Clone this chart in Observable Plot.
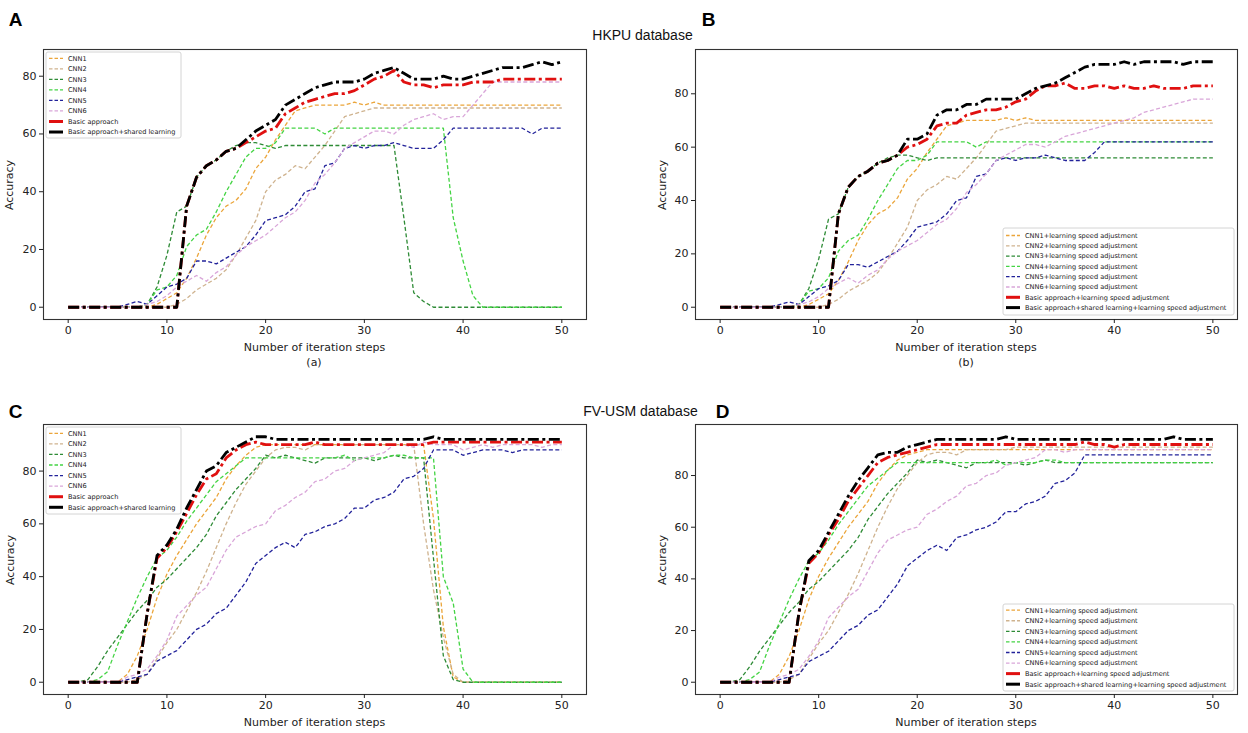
<!DOCTYPE html>
<html><head><meta charset="utf-8">
<script src="https://cdn.jsdelivr.net/npm/d3@7"></script>
<script src="https://cdn.jsdelivr.net/npm/@observablehq/plot@0.6"></script>
<style>
body{margin:0;background:#fff;}
#fig{position:relative;width:1248px;height:733px;overflow:hidden;background:#fff;}
.abs{position:absolute;white-space:nowrap;transform:translate(-50%,-50%);line-height:1;}
.letter{font-family:"Liberation Sans",Arial,sans-serif;font-weight:bold;font-size:19px;color:#000;}
.db{font-family:"Liberation Sans",Arial,sans-serif;font-size:14px;color:#111;}
.axlab{font-family:"DejaVu Sans",sans-serif;font-size:11px;color:#222;}
</style></head><body><div id="fig"></div>
<script>
// ---------------- data ----------------
const steps = d3.range(0, 51);
const xTicks = [0, 10, 20, 30, 40, 50];
const yTicks = [0, 20, 40, 60, 80];

const legendA = ["CNN1","CNN2","CNN3","CNN4","CNN5","CNN6","Basic approach","Basic approach+shared learning"];
const legendB = ["CNN1+learning speed adjustment","CNN2+learning speed adjustment","CNN3+learning speed adjustment","CNN4+learning speed adjustment","CNN5+learning speed adjustment","CNN6+learning speed adjustment","Basic approach+learning speed adjustment","Basic approach+shared learning+learning speed adjustment"];

// Panel A (HKPU, basic)
const A_cnn1 = [0,0,0,0,0,0,0,0,0,1,3,5,10,17,25,31,35,37,41,48,52,58,63,68,69,70,70,70,70,71,70,71,70,70,70,70,70,70,70,70,70,70,70,70,70,70,70,70,70,70,70];
const A_cnn2 = [0,0,0,0,0,0,0,0,0,0,0,1,3,6,8,10,13,18,24,30,40,44,46,49,48,52,56,61,66,67,68,69,69,69,69,69,69,69,69,69,69,69,69,69,69,69,69,69,69,69,69];
const A_cnn3 = [0,0,0,0,0,0,0,0,1,7,18,33,35,45,49,51,54,56,57,57,56,55,56,56,56,56,56,56,56,56,56,56,56,56,31,5,2,0,0,0,0,0,0,0,0,0,0,0,0,0,0];
const A_cnn4 = [0,0,0,0,0,0,0,0,1,6,7,11,21,25,27,33,40,46,52,55,55,57,62,62,62,62,60,62,62,62,62,62,62,62,62,62,62,62,62,31,16,4,0,0,0,0,0,0,0,0,0];
const A_cnn5 = [0,0,0,0,0,0,1,2,1,4,7,8,10,16,16,15,17,19,21,25,30,31,32,35,40,41,49,50,55,56,55,56,56,57,56,55,55,55,58,62,62,62,62,62,62,62,62,60,62,62,62];
const A_cnn6 = [0,0,0,0,0,0,0,0,1,2,4,7,9,11,9,12,14,18,21,23,25,28,31,33,37,43,46,50,55,57,59,61,61,60,63,65,66,67,65,66,66,70,74,78,78,78,78,78,78,78,78];
const A_basic = [0,0,0,0,0,0,0,0,0,0,0,0,35,45,49,51,54,55,57,59,61,62,67,69,71,72,73,74,74,75,77,79,80,82,78,77,77,76,77,77,77,78,78,78,79,79,79,79,79,79,79];
const A_shared = [0,0,0,0,0,0,0,0,0,0,0,0,35,45,49,51,54,55,58,61,63,65,70,72,74,76,77,78,78,78,79,81,82,83,81,79,79,79,80,79,79,80,81,82,83,83,83,84,85,84,85];

// Panel B (HKPU, learning speed adjustment)
const B_cnn1 = [0,0,0,0,0,0,0,0,0,1,3,5,10,17,25,31,35,37,41,48,52,58,63,68,69,70,70,70,70,71,70,71,70,70,70,70,70,70,70,70,70,70,70,70,70,70,70,70,70,70,70];
const B_cnn2 = [0,0,0,0,0,0,0,0,0,0,0,1,3,6,8,10,13,18,24,30,40,44,46,49,48,52,56,61,66,67,68,69,69,69,69,69,69,69,69,69,69,69,69,69,69,69,69,69,69,69,69];
const B_cnn3 = [0,0,0,0,0,0,0,0,1,7,18,33,35,45,49,51,54,56,57,57,56,55,56,56,56,56,56,56,56,56,56,56,56,56,56,56,56,56,56,56,56,56,56,56,56,56,56,56,56,56,56];
const B_cnn4 = [0,0,0,0,0,0,0,0,1,6,7,11,21,25,27,33,40,46,52,55,55,57,62,62,62,62,60,62,62,62,62,62,62,62,62,62,62,62,62,62,62,62,62,62,62,62,62,62,62,62,62];
const B_cnn5 = [0,0,0,0,0,0,1,2,1,4,7,8,10,16,16,15,17,19,21,25,30,31,32,35,40,41,49,50,55,56,55,56,56,57,56,55,55,55,58,62,62,62,62,62,62,62,62,62,62,62,62];
const B_cnn6 = [0,0,0,0,0,0,0,0,1,2,4,7,9,11,9,12,14,18,21,23,25,28,31,33,37,43,46,50,55,57,59,61,61,60,62,64,65,66,67,68,69,70,71,73,74,75,76,77,78,78,78];
const B_basic = [0,0,0,0,0,0,0,0,0,0,0,0,35,45,49,51,54,55,57,60,61,63,68,69,69,72,73,74,74,75,77,78,81,83,83,84,82,82,83,83,82,83,82,82,83,82,82,82,83,83,83];
const B_shared = [0,0,0,0,0,0,0,0,0,0,0,0,35,45,49,51,54,55,57,63,63,65,72,74,74,76,76,78,78,78,78,80,82,83,84,86,88,90,91,91,91,92,91,92,92,92,92,91,92,92,92];

// Panel C (FV-USM, basic)
const C_cnn1 = [0,0,0,0,0,0,3,10,20,32,41,48,54,60,65,70,77,82,86,89,90,90,90,90,90,90,90,90,90,90,90,90,90,90,90,90,90,62,21,2,0,0,0,0,0,0,0,0,0,0,0];
const C_cnn2 = [0,0,0,0,0,0,0,1,3,9,15,20,27,34,42,51,60,68,75,80,85,88,89,89,88,90,90,90,90,90,90,90,90,90,90,90,60,35,17,3,0,0,0,0,0,0,0,0,0,0,0];
const C_cnn3 = [0,0,1,6,12,17,22,27,31,36,39,43,47,51,56,63,68,73,77,81,86,85,86,85,84,83,85,85,85,85,85,84,85,86,85,85,85,47,10,1,0,0,0,0,0,0,0,0,0,0,0];
const C_cnn4 = [0,0,0,1,4,14,23,32,40,47,50,55,61,66,71,76,79,82,85,85,85,85,85,85,85,85,85,85,86,84,85,85,85,86,86,85,85,85,40,30,5,0,0,0,0,0,0,0,0,0,0];
const C_cnn5 = [0,0,0,0,0,0,1,2,3,8,10,12,16,20,22,26,28,33,38,45,48,51,53,51,56,57,59,60,62,66,66,69,70,72,77,78,81,88,88,88,86,87,88,88,88,87,88,88,88,88,88];
const C_cnn6 = [0,0,0,0,0,0,2,3,5,10,16,25,29,33,36,43,50,55,57,59,60,65,67,70,72,76,77,80,81,84,85,86,87,90,90,89,91,90,90,90,88,89,90,89,90,90,90,90,89,90,90];
const C_basic = [0,0,0,0,0,0,0,0,26,47,51,57,64,71,77,79,85,88,90,91,90,90,90,90,90,91,90,90,90,90,90,90,90,90,90,90,90,91,91,91,91,91,91,91,91,91,91,91,91,91,91];
const C_shared = [0,0,0,0,0,0,0,0,26,48,52,58,66,73,80,82,87,89,91,93,93,92,92,92,92,92,92,92,92,92,92,92,92,92,92,92,92,93,92,92,92,92,92,92,92,92,92,92,92,92,92];

// Panel D (FV-USM, learning speed adjustment)
const D_cnn1 = [0,0,0,0,0,0,3,10,20,32,41,48,54,60,65,70,77,82,86,88,89,90,90,90,90,90,90,90,90,90,90,90,90,90,90,90,90,90,90,90,90,90,90,90,90,90,90,90,90,90,90];
const D_cnn2 = [0,0,0,0,0,0,0,1,3,9,15,20,27,34,42,51,60,68,75,80,85,88,89,89,88,90,90,90,90,90,91,91,91,91,91,91,91,91,91,91,91,91,91,91,91,91,91,91,91,91,91];
const D_cnn3 = [0,0,1,6,12,17,22,27,31,36,39,43,47,51,56,63,68,73,77,81,86,85,86,85,84,83,85,85,85,85,85,84,85,86,85,85,85,85,85,85,85,85,85,85,85,85,85,85,85,85,85];
const D_cnn4 = [0,0,0,1,4,14,23,32,40,47,50,55,61,66,71,76,79,82,85,85,85,85,85,85,85,85,85,85,86,84,85,85,85,86,86,85,85,85,85,85,85,85,85,85,85,85,85,85,85,85,85];
const D_cnn5 = [0,0,0,0,0,0,1,2,3,8,10,12,16,20,22,26,28,33,38,45,48,51,53,51,56,57,59,60,62,66,66,69,70,72,77,78,81,88,88,88,88,88,88,88,88,88,88,88,88,88,88];
const D_cnn6 = [0,0,0,0,0,0,2,3,5,10,16,25,29,33,36,43,50,55,57,59,60,65,67,70,72,76,77,80,81,84,85,86,87,90,90,89,90,90,90,90,90,90,90,90,90,90,90,90,90,90,90];
const D_basic = [0,0,0,0,0,0,0,0,27,46,50,57,63,70,75,80,85,87,88,89,90,91,92,92,92,92,92,92,92,92,92,92,92,92,92,92,92,93,92,92,91,92,92,92,92,92,92,92,92,92,92];
const D_shared = [0,0,0,0,0,0,0,0,27,47,51,58,65,72,78,83,88,89,89,91,92,93,94,94,94,94,94,94,94,95,94,94,94,94,94,94,94,94,94,94,94,94,94,94,94,94,95,94,94,94,94];

// ---------------- styles ----------------
const seriesStyle = [
  {color: "#eba53a", width: 1.3, dash: "4,2.4"},
  {color: "#cfb38f", width: 1.3, dash: "4,2.4"},
  {color: "#2e8b36", width: 1.3, dash: "4,2.4"},
  {color: "#44d444", width: 1.3, dash: "4,2.4"},
  {color: "#22229a", width: 1.3, dash: "4,2.4"},
  {color: "#d9a6d9", width: 1.3, dash: "4,2.4"},
  {color: "#e01010", width: 2.8, dash: "11,3.5,3,3.5"},
  {color: "#000000", width: 2.8, dash: "11,3.5,3,3.5"}
];

const fig = document.getElementById("fig");

function panel(cfg) {
  const marks = [Plot.frame({stroke: "#333", strokeWidth: 1.1})];
  cfg.series.forEach((vals, k) => {
    const st = seriesStyle[k];
    marks.push(Plot.line(vals, {
      x: (d, i) => steps[i], y: d => d,
      stroke: st.color, strokeWidth: st.width, strokeDasharray: st.dash,
      strokeLinejoin: "round", strokeLinecap: "butt"
    }));
  });
  marks.push(Plot.axisX({ticks: xTicks, tickSize: 4, tickPadding: 3, label: null}));
  marks.push(Plot.axisY({ticks: yTicks, tickSize: 4, tickPadding: 3, label: null}));
  const svg = Plot.plot({
    width: 620, height: cfg.height,
    marginLeft: cfg.ml, marginRight: cfg.mr, marginTop: cfg.mt, marginBottom: cfg.mb,
    x: {domain: [-2.5, 52.5]},
    y: {domain: cfg.yDomain},
    style: {fontFamily: "DejaVu Sans, sans-serif", fontSize: "11px", color: "#222", background: "transparent", overflow: "visible"},
    marks
  });
  svg.style.position = "absolute";
  svg.style.left = cfg.left + "px";
  svg.style.top = cfg.top + "px";
  fig.appendChild(svg);
}

function legend(cfg) {
  const svg = d3.create("svg")
    .attr("width", cfg.w + 2).attr("height", cfg.h + 2)
    .style("position", "absolute").style("left", (cfg.x - 1) + "px").style("top", (cfg.y - 1) + "px");
  svg.append("rect").attr("x", 1).attr("y", 1).attr("width", cfg.w).attr("height", cfg.h)
    .attr("rx", 2).attr("fill", "rgba(255,255,255,0.85)").attr("stroke", "#d4d4d4");
  cfg.labels.forEach((lab, k) => {
    const st = seriesStyle[k];
    const cy = 1 + cfg.row0 + k * cfg.step;
    const ln = svg.append("line").attr("x1", 4).attr("x2", 18).attr("y1", cy).attr("y2", cy)
      .attr("stroke", st.color).attr("stroke-width", k >= 6 ? 3 : 1.3);
    if (k < 6) ln.attr("stroke-dasharray", "3.5,2");
    svg.append("text").attr("x", 23).attr("y", cy).attr("dy", "0.35em")
      .attr("font-family", "DejaVu Sans, sans-serif").attr("font-size", 6.6).attr("fill", "#222")
      .text(lab);
  });
  fig.appendChild(svg.node());
}

function label(text, x, y, cls, rotate) {
  const d = document.createElement("div");
  d.className = "abs " + cls;
  d.textContent = text;
  d.style.left = x + "px";
  d.style.top = y + "px";
  if (rotate) d.style.transform = "translate(-50%,-50%) rotate(-90deg)";
  fig.appendChild(d);
}

panel({left: 0, top: 0, height: 370, ml: 43, mr: 34, mt: 49, mb: 51, yDomain: [-4.25, 89.25],
  series: [A_cnn1, A_cnn2, A_cnn3, A_cnn4, A_cnn5, A_cnn6, A_basic, A_shared]});
panel({left: 630, top: 0, height: 370, ml: 65, mr: 13, mt: 49, mb: 51, yDomain: [-4.6, 96.6],
  series: [B_cnn1, B_cnn2, B_cnn3, B_cnn4, B_cnn5, B_cnn6, B_basic, B_shared]});
panel({left: 0, top: 375, height: 358, ml: 43, mr: 34, mt: 49, mb: 39, yDomain: [-4.65, 97.65],
  series: [C_cnn1, C_cnn2, C_cnn3, C_cnn4, C_cnn5, C_cnn6, C_basic, C_shared]});
panel({left: 630, top: 375, height: 358, ml: 65, mr: 13, mt: 49, mb: 39, yDomain: [-4.75, 99.75],
  series: [D_cnn1, D_cnn2, D_cnn3, D_cnn4, D_cnn5, D_cnn6, D_basic, D_shared]});

legend({x: 46, y: 52, w: 135, h: 86, row0: 6.3, step: 10.53, labels: legendA});
legend({x: 46, y: 427, w: 135, h: 87, row0: 6.3, step: 10.57, labels: legendA});
legend({x: 1003, y: 228, w: 231, h: 87, row0: 7.5, step: 10.3, labels: legendB});
legend({x: 1003, y: 604, w: 231, h: 87, row0: 6.2, step: 10.57, labels: legendB});

label("A", 15.5, 18.5, "letter");
label("B", 708.5, 18.5, "letter");
label("C", 15.5, 410.5, "letter");
label("D", 722.5, 410.5, "letter");
label("HKPU database", 642.5, 35, "db");
label("FV-USM database", 640.5, 411, "db");

label("Number of iteration steps", 314.5, 347, "axlab");
label("(a)", 314, 362, "axlab");
label("Number of iteration steps", 966, 347, "axlab");
label("(b)", 966, 362, "axlab");
label("Number of iteration steps", 314.5, 722, "axlab");
label("Number of iteration steps", 966, 722, "axlab");

label("Accuracy", 9, 185, "axlab", true);
label("Accuracy", 661.5, 185, "axlab", true);
label("Accuracy", 10, 560, "axlab", true);
label("Accuracy", 661.5, 560, "axlab", true);
</script></body></html>
